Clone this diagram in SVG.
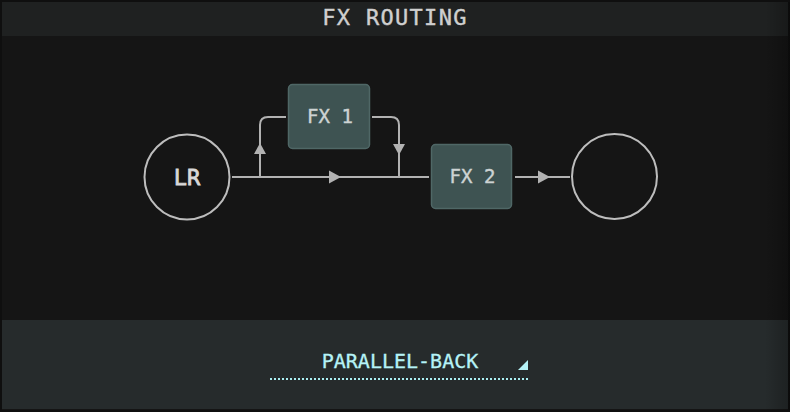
<svg xmlns="http://www.w3.org/2000/svg" width="790" height="412" viewBox="0 0 790 412">
<defs>
<linearGradient id="edge" x1="0" y1="0" x2="1" y2="0">
<stop offset="0" stop-color="#000" stop-opacity="0"/>
<stop offset="1" stop-color="#000" stop-opacity="0.25"/>
</linearGradient>
</defs>
<style>
.mono{font-family:"DejaVu Sans Mono","Liberation Mono",monospace;}
.box{fill:#3e5352;stroke:#4f6766;stroke-width:1.5;}
.node{fill:none;stroke:#bdbdbd;stroke-width:2;}
.wire{fill:none;stroke:#b2b2b2;stroke-width:2;}
.head{fill:#b2b2b2;}
.lbl{fill:#cdd3d3;font-size:19px;text-anchor:middle;stroke:#cdd3d3;stroke-width:0.4;}
</style>
<rect x="0" y="0" width="790" height="412" fill="#0f0f0f"/>
<rect x="2" y="2" width="786" height="408" fill="#151515"/>
<rect x="2" y="2" width="786" height="34" fill="#1f2121"/>
<rect x="2" y="320" width="786" height="89" fill="#262b2c"/>
<rect x="765" y="2" width="25" height="408" fill="url(#edge)"/>
<text x="395" y="25" class="mono" font-size="22" fill="#cfcfcf" stroke="#cfcfcf" stroke-width="0.4" text-anchor="middle" letter-spacing="1.3">FX ROUTING</text>

<g id="connectors">
<path class="wire" d="M232,177 H429"/>
<path class="wire" d="M260,177 V125 Q260,117 268,117 H286"/>
<path class="wire" d="M372,117 H391 Q399,117 399,125 V177"/>
<path class="wire" d="M515,177 H570"/>
<polygon class="head" points="329,170.5 341,177 329,183.5"/>
<polygon class="head" points="254,154 260,143 266,154"/>
<polygon class="head" points="393,144 405,144 399,155"/>
<polygon class="head" points="538,170.5 550,177 538,183.5"/>
</g>

<g id="node-lr">
<circle class="node" cx="187" cy="177" r="42.5"/>
<text x="187" y="185" class="mono" font-size="22" fill="#d8d8d8" stroke="#d8d8d8" stroke-width="0.8" text-anchor="middle">LR</text>
</g>
<g id="node-fx1">
<rect class="box" x="288.5" y="84.5" width="81" height="64" rx="4"/>
<text x="330" y="123" class="mono lbl">FX 1</text>
</g>
<g id="node-fx2">
<rect class="box" x="431.5" y="144.5" width="80" height="64" rx="4"/>
<text x="472.5" y="183" class="mono lbl">FX 2</text>
</g>
<g id="node-out">
<circle class="node" cx="614.5" cy="176.5" r="42.5"/>
</g>

<g id="selector">
<text x="400" y="368" class="mono" font-size="20" fill="#b5f3f7" stroke="#b5f3f7" stroke-width="0.3" text-anchor="middle">PARALLEL-BACK</text>
<polygon points="518,370 528,370 528,360" fill="#b5f3f7"/>
<line x1="270" y1="379" x2="528" y2="379" stroke="#a9eef2" stroke-width="2" stroke-dasharray="2 2"/>
</g>
</svg>
